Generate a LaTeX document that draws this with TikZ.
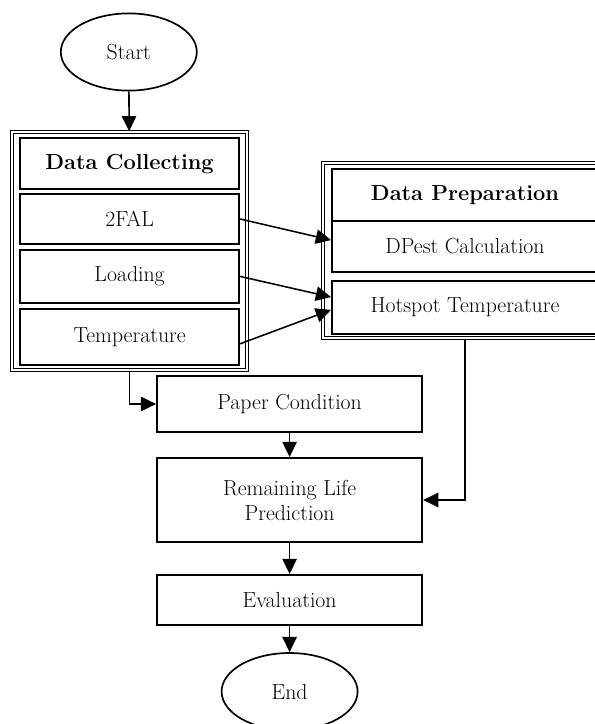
\documentclass[tikz,border=0pt]{standalone}
\usepackage{tikz}
\usetikzlibrary{shapes.geometric,arrows.meta,positioning,calc}
\newcommand{\chartfont}{\fontsize{15.5}{17.8}\selectfont}

\begin{document}
\begin{tikzpicture}[
    term/.style={draw, ellipse, line width=1.2pt, minimum width=3.4cm,
                 minimum height=1.93cm, inner sep=0pt, font=\chartfont},
    groupbox/.style={draw, double, double distance=0.9pt, line width=1.1pt,
                     inner sep=0pt},
    leftcell/.style={draw, line width=1.4pt, minimum width=5.475cm,
                     inner sep=0pt, font=\chartfont},
    rightcell/.style={draw, line width=1.4pt, minimum width=6.65cm,
                      inner sep=0pt, font=\chartfont},
    stepbox/.style={draw, line width=1.4pt, minimum width=6.625cm,
                    inner sep=0pt, align=center, font=\chartfont},
    head/.style={font=\chartfont\bfseries},
    flow/.style={-{Triangle[length=0.38cm,width=0.36cm]}, line width=1.1pt}
]
\useasboundingbox (0,0) rectangle (14.875,-18.1);

\node[term] (start) at (3.22,-1.30) {Start};

% data collecting group
\node[groupbox, minimum width=5.875cm, minimum height=5.95cm] (collect) at (3.24,-6.275) {};
\node[leftcell, head, minimum height=1.275cm] (collecthead) at (3.24,-4.09) {Data Collecting};
\node[leftcell, minimum height=1.25cm]  (fal)     at (3.24,-5.475) {2FAL};
\node[leftcell, minimum height=1.325cm] (loading) at (3.24,-6.91)  {Loading};
\node[leftcell, minimum height=1.4cm]   (temp)    at (3.24,-8.425) {Temperature};

% data preparation group
\node[groupbox, minimum width=7.1cm, minimum height=4.375cm] (prep) at (11.625,-6.2625) {};
\node[rightcell, head, minimum height=1.3cm] (prephead) at (11.625,-4.875) {Data Preparation};
\node[rightcell, minimum height=1.275cm] (dpest)   at (11.625,-6.1625) {DPest Calculation};
\node[rightcell, minimum height=1.325cm] (hotspot) at (11.625,-7.6875) {Hotspot Temperature};

% main steps
\node[stepbox, minimum height=1.4cm]  (paper)  at (7.24,-10.1) {Paper Condition};
\node[stepbox, minimum height=2.1cm]  (remain) at (7.24,-12.5) {Remaining Life\\Prediction};
\node[stepbox, minimum height=1.25cm] (eval)   at (7.24,-15.0) {Evaluation};
\node[term] (end) at (7.24,-17.29) {End};

\draw[flow] (start) -- (collect);
\draw[flow] (fal.east) -- ([yshift=0.16cm]dpest.west);
\draw[flow] (loading.east) -- ([yshift=0.26cm]hotspot.west);
\draw[flow] ([yshift=-0.17cm]temp.east) -- ([yshift=-0.06cm]hotspot.west);
\draw[flow] (collect.south) |- (paper.west);
\draw[flow] (prep.south) |- (remain.east);
\draw[flow] (paper) -- (remain);
\draw[flow] (remain) -- (eval);
\draw[flow] (eval) -- (end);
\end{tikzpicture}
\end{document}
